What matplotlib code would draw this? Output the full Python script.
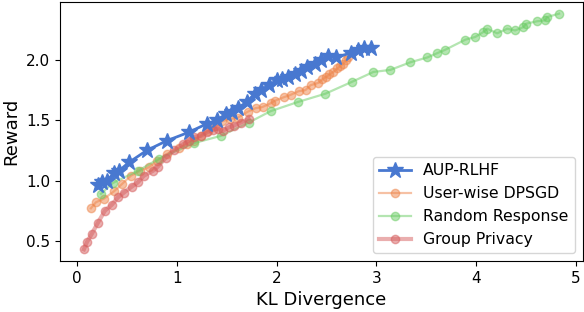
import matplotlib
matplotlib.use("Agg")
import matplotlib.pyplot as plt

aup_x = [0.21, 0.25, 0.30, 0.37, 0.42, 0.52, 0.70, 0.90, 1.12, 1.30, 1.40, 1.49, 1.55, 1.61, 1.70, 1.78,
         1.84, 1.92, 2.00, 2.05, 2.11, 2.18, 2.24, 2.30, 2.38, 2.45, 2.52, 2.60, 2.75, 2.82, 2.88, 2.95]
aup_y = [0.96, 0.99, 1.00, 1.06, 1.08, 1.15, 1.25, 1.33, 1.40, 1.47, 1.50, 1.55, 1.57, 1.60, 1.65, 1.72,
         1.75, 1.79, 1.83, 1.84, 1.86, 1.88, 1.91, 1.94, 1.97, 2.00, 2.03, 2.02, 2.06, 2.08, 2.10, 2.10]

dpsgd_x = [0.14, 0.19, 0.27, 0.37, 0.45, 0.54, 0.63, 0.72, 0.80, 0.90, 1.02, 1.10, 1.17, 1.24, 1.31, 1.38,
           1.45, 1.53, 1.61, 1.71, 1.79, 1.86, 1.94, 1.98, 2.07, 2.14, 2.22, 2.29, 2.34, 2.42, 2.46, 2.50,
           2.53, 2.57, 2.61, 2.64, 2.67, 2.70, 2.72]
dpsgd_y = [0.77, 0.82, 0.85, 0.91, 0.97, 1.04, 1.08, 1.11, 1.16, 1.22, 1.27, 1.30, 1.33, 1.37, 1.41, 1.45,
           1.49, 1.51, 1.52, 1.57, 1.60, 1.61, 1.64, 1.66, 1.69, 1.71, 1.74, 1.75, 1.79, 1.81, 1.84, 1.86,
           1.88, 1.90, 1.93, 1.95, 1.97, 2.00, 2.02]

rr_x = [0.24, 0.36, 0.61, 0.82, 1.17, 1.44, 1.72, 1.94, 2.21, 2.49, 2.76, 2.97, 3.14, 3.34, 3.51, 3.61,
        3.69, 3.89, 3.99, 4.07, 4.11, 4.21, 4.31, 4.39, 4.47, 4.50, 4.61, 4.69, 4.71, 4.83]
rr_y = [0.89, 0.98, 1.08, 1.18, 1.31, 1.37, 1.48, 1.575, 1.65, 1.72, 1.82, 1.90, 1.917, 1.98, 2.02, 2.056,
        2.084, 2.167, 2.19, 2.23, 2.258, 2.22, 2.258, 2.244, 2.27, 2.30, 2.32, 2.327, 2.355, 2.383]

gp_x = [0.07, 0.10, 0.15, 0.21, 0.28, 0.35, 0.41, 0.47, 0.55, 0.61, 0.67, 0.76, 0.81, 0.89, 0.97, 1.06,
        1.12, 1.17, 1.24, 1.30, 1.36, 1.41, 1.46, 1.52, 1.57, 1.64, 1.72]
gp_y = [0.43, 0.49, 0.56, 0.65, 0.75, 0.80, 0.86, 0.90, 0.95, 0.985, 1.04, 1.08, 1.115, 1.19, 1.25, 1.30,
        1.33, 1.36, 1.37, 1.40, 1.42, 1.43, 1.41, 1.44, 1.455, 1.48, 1.51]

labels = ["AUP-RLHF", "User-wise DPSGD", "Random Response", "Group Privacy"]
colors = ["#4878d0", "#ee854a", "#6acc64", "#d65f5f"]

fig = plt.figure(figsize=(5.84, 3.12), dpi=100)
ax = fig.add_axes([0.103, 0.163, 0.895, 0.831])

ax.plot(aup_x, aup_y, marker="*", markersize=12, linewidth=2, color=colors[0], label=labels[0], zorder=5)
ax.plot(dpsgd_x, dpsgd_y, marker="o", markersize=6, linewidth=1.6, color=colors[1], alpha=0.5, label=labels[1])
ax.plot(rr_x, rr_y, marker="o", markersize=6, linewidth=1.6, color=colors[2], alpha=0.5, label=labels[2])
ax.plot(gp_x, gp_y, marker="o", markersize=6, linewidth=3, color=colors[3], alpha=0.5, label=labels[3])

ax.set_xticks([0, 1, 2, 3, 4, 5])
ax.set_yticks([0.5, 1.0, 1.5, 2.0])
ax.tick_params(labelsize=11)
ax.set_xlabel("KL Divergence", fontsize=13)
ax.set_ylabel("Reward", fontsize=13)
ax.legend(loc="lower right", fontsize=11.3)

fig.savefig("out.png", dpi=100)
